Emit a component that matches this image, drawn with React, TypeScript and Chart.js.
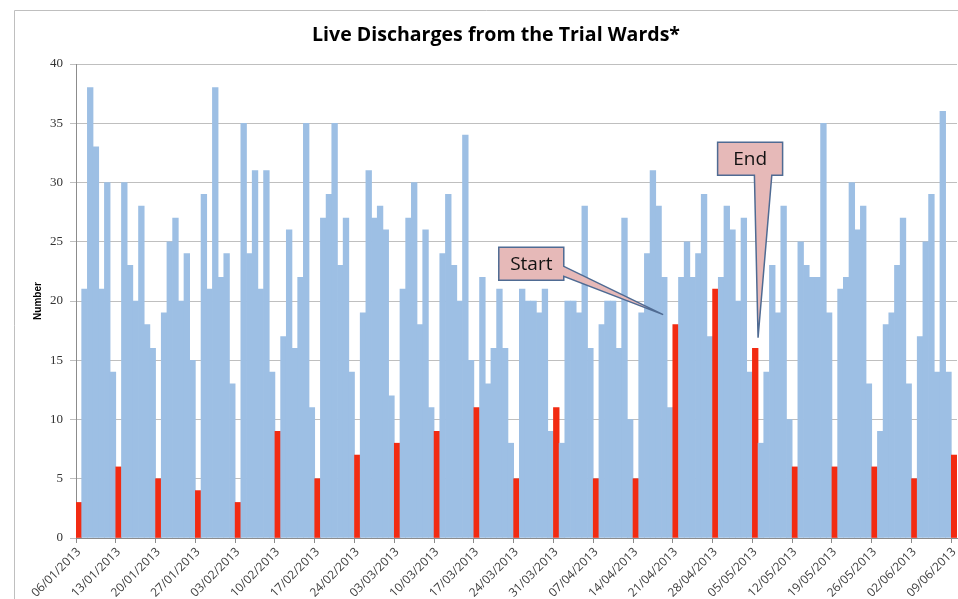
import React, { useEffect, useRef } from 'react';
import { Chart, registerables } from 'chart.js';

Chart.register(...registerables);

// ---- Data (daily live discharges, 06/01/2013 – 09/06/2013) ----
const START_YEAR = 2013;
const START_MONTH = 0; // January
const START_DAY = 6;

const janValues = [3, 21, 38, 33, 21, 30, 14, 6, 30, 23, 20, 28, 18, 16, 5, 19, 25, 27, 20, 24, 15, 4, 29, 21, 38, 22];
const febValues = [24, 13, 3, 35, 24, 31, 21, 31, 14, 9, 17, 26, 16, 22, 35, 11, 5, 27, 29, 35, 23, 27, 14, 7, 19, 31, 27, 28];
const marValues = [26, 12, 8, 21, 27, 30, 18, 26, 11, 9, 24, 29, 23, 20, 34, 15, 11, 22, 13, 16, 21, 16, 8, 5, 21, 20, 20, 19, 21, 9, 11];
const aprValues = [8, 20, 20, 19, 28, 16, 5, 18, 20, 20, 16, 27, 10, 5, 19, 24, 31, 28, 22, 11, 18, 22, 25, 22, 24, 29, 17, 21, 22, 28];
const mayValues = [26, 20, 27, 14, 16, 8, 14, 23, 19, 28, 10, 6, 25, 23, 22, 22, 35, 19, 6, 21, 22, 30, 26, 28, 13, 6, 9, 18, 19, 23, 27];
const junValues = [13, 5, 17, 25, 29, 14, 36, 14, 7];

const discharges: number[] = [...janValues, ...febValues, ...marValues, ...aprValues, ...mayValues, ...junValues];

const yTickValues = [0, 5, 10, 15, 20, 25, 30, 35, 40];

const TITLE = 'Live Discharges from the Trial Wards*';
const Y_TITLE = 'Number';

const BLUE = '#9DBFE4';
const RED = '#F22B12';

function dayDate(i: number) {
  return new Date(Date.UTC(START_YEAR, START_MONTH, START_DAY + i));
}
function pad(n: number) {
  return n < 10 ? '0' + n : String(n);
}
const categories: string[] = discharges.map((_, i) => {
  const d = dayDate(i);
  return pad(d.getUTCDate()) + '/' + pad(d.getUTCMonth() + 1) + '/' + d.getUTCFullYear();
});
const isSunday: boolean[] = discharges.map((_, i) => dayDate(i).getUTCDay() === 0);

// Callout annotations (anchored in data space: day index, value)
const callouts = [
  { text: 'Start', boxIndex: 79.6, boxValue: 23.15, tipIndex: 102.8, tipValue: 18.85, side: 'right', base: [2.7, 12.7] },
  { text: 'End', boxIndex: 118.1, boxValue: 32.0, tipIndex: 119.5, tipValue: 16.9, side: 'bottom', base: [4.3, 21.7] },
];

const decorPlugin = {
  id: 'decor',
  beforeDraw(chart: any) {
    const ctx = chart.ctx;
    ctx.save();
    ctx.strokeStyle = '#BFBFBF';
    ctx.lineWidth = 1;
    ctx.beginPath();
    ctx.moveTo(14.5, chart.height);
    ctx.lineTo(14.5, 10.5);
    ctx.lineTo(chart.width, 10.5);
    ctx.stroke();
    ctx.fillStyle = '#000';
    ctx.font = 'bold 20px "Open Sans"';
    ctx.textAlign = 'center';
    ctx.textBaseline = 'middle';
    ctx.fillText(TITLE, 496, 35, 368);
    ctx.restore();
  },
  afterDatasetsDraw(chart: any) {
    const ctx = chart.ctx;
    const area = chart.chartArea;
    const n = discharges.length;
    const w = (area.right - area.left) / n;
    const px = (i: number) => area.left + (i + 0.5) * w;
    const py = (v: number) => chart.scales.y.getPixelForValue(v);
    ctx.save();
    for (const c of callouts) {
      const cx = px(c.boxIndex);
      const cy = py(c.boxValue);
      const bw = 65;
      const bh = 33;
      const l = cx - bw / 2, r = cx + bw / 2, t = cy - bh / 2, b = cy + bh / 2;
      const tx = px(c.tipIndex), ty = py(c.tipValue);
      ctx.beginPath();
      ctx.moveTo(l, t);
      ctx.lineTo(r, t);
      if (c.side === 'right') {
        ctx.lineTo(r, cy + c.base[0]);
        ctx.lineTo(tx, ty);
        ctx.lineTo(r, cy + c.base[1]);
        ctx.lineTo(r, b);
        ctx.lineTo(l, b);
      } else {
        ctx.lineTo(r, b);
        ctx.lineTo(cx + c.base[1], b);
        ctx.lineTo(tx, ty);
        ctx.lineTo(cx + c.base[0], b);
        ctx.lineTo(l, b);
      }
      ctx.closePath();
      ctx.fillStyle = '#E6B9B8';
      ctx.fill();
      ctx.strokeStyle = '#4F6B93';
      ctx.lineWidth = 1.5;
      ctx.stroke();
      ctx.fillStyle = '#111';
      ctx.font = '19px "Open Sans"';
      ctx.textAlign = 'center';
      ctx.textBaseline = 'middle';
      ctx.fillText(c.text, cx, cy + 1);
    }
    ctx.restore();
  },
};

export default function App() {
  const canvasRef = useRef<HTMLCanvasElement | null>(null);

  useEffect(() => {
    const canvas = canvasRef.current;
    if (!canvas) return;
    const chart = new Chart(canvas, {
      type: 'bar',
      data: {
        labels: categories,
        datasets: [
          {
            data: discharges,
            backgroundColor: discharges.map((_, i) => (isSunday[i] ? RED : BLUE)),
            barPercentage: 1,
            categoryPercentage: 1,
            borderWidth: 0,
          },
        ],
      },
      options: {
        responsive: false,
        animation: false,
        events: [],
        layout: { padding: { top: 64, right: 1, left: 0, bottom: 0 } },
        plugins: {
          legend: { display: false },
          title: { display: false },
          tooltip: { enabled: false },
        },
        scales: {
          x: {
            grid: {
              offset: true,
              drawOnChartArea: false,
              drawTicks: true,
              tickLength: 5,
              color: (c: any) => (c.index % 7 === 0 ? '#8C8C8C' : 'rgba(0,0,0,0)'),
            },
            border: { color: '#8C8C8C' },
            ticks: {
              autoSkip: false,
              maxRotation: 45,
              minRotation: 45,
              padding: 2,
              color: '#404040',
              font: { family: 'Open Sans', size: 12 },
              callback: (_v: any, i: number) => (i % 7 === 0 ? categories[i] : ''),
            },
            afterFit: (s: any) => {
              s.height = 102;
              s.paddingLeft = 0;
              s.paddingRight = 0;
            },
          },
          y: {
            min: 0,
            max: 40,
            afterBuildTicks: (s: any) => {
              s.ticks = yTickValues.map((v) => ({ value: v }));
            },
            ticks: {
              stepSize: 5,
              padding: 7,
              color: '#333',
              font: { family: 'Liberation Serif', size: 13 },
            },
            grid: { color: '#BFBFBF', tickLength: 6 },
            border: { color: '#8C8C8C' },
            title: {
              display: true,
              text: Y_TITLE,
              color: '#000',
              font: { family: 'Liberation Sans', size: 10, weight: 'bold' },
              padding: { top: 32, bottom: 0 },
            },
            afterFit: (s: any) => {
              s.width = 76;
              s.paddingTop = 0;
              s.paddingBottom = 0;
            },
          },
        },
      },
      plugins: [decorPlugin],
    } as any);
    return () => chart.destroy();
  }, []);

  return (
    <div style={{ position: 'fixed', left: 0, top: 0, width: 958, height: 599, overflow: 'hidden', background: '#fff' }}>
      <canvas ref={canvasRef} width={958} height={640} style={{ display: 'block' }} />
    </div>
  );
}
